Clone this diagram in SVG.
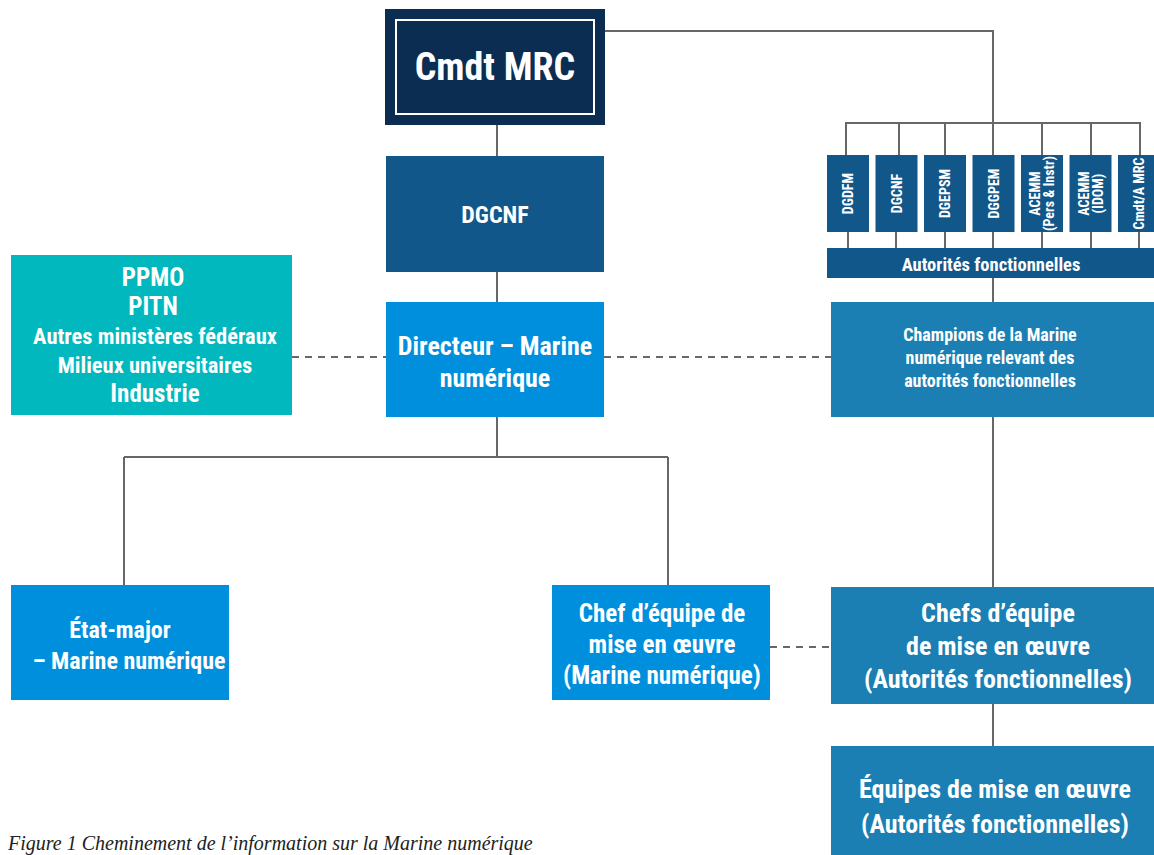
<svg xmlns="http://www.w3.org/2000/svg" width="1154" height="855" viewBox="0 0 1154 855">
<style>
.t{font-family:"Liberation Sans Narrow","Roboto Condensed","Roboto","Liberation Sans",sans-serif;font-weight:bold;fill:#fff;text-anchor:middle}
.ln{stroke:#676767;stroke-width:2;fill:none}
.ds{stroke:#676767;stroke-width:2;fill:none;stroke-dasharray:7 6}
.navy{fill:#0b2d52}
.dk{fill:#12578a}
.br{fill:#008fdd}
.md{fill:#1b7fb4}
.tl{fill:#00b8be}
.sm{font-size:14px}
</style>
<rect width="1154" height="855" fill="#fff"/>
<g id="connectors">
<path class="ln" d="M605 31H993V123M846 155V123H1140V155M899 123V155M945 123V155M1042 123V155M1091 123V155M993 123V155"/>
<path class="ln" d="M848 232V248M896 232V248M945 232V248M993 232V248M1042 232V248M1091 232V248M1139 232V248"/>
<path class="ln" d="M993 278V302M497 125V156M497 272V302M497 417V457M124 457H668M124 457V585M668 457V585M993 417V587M993 704V746"/>
<path class="ds" d="M292 357H386M604 357H831M770 647H831"/>
</g>
<g id="cmdt"><rect class="navy" x="385" y="9" width="220" height="116"/><rect x="396" y="20" width="198" height="94" fill="none" stroke="#fff" stroke-width="2"/><text class="t" x="495" y="80" font-size="38">Cmdt MRC</text></g>
<g id="dgcnf"><rect class="dk" x="386" y="156" width="218" height="116"/><text class="t" x="495" y="223" font-size="24">DGCNF</text></g>
<g id="directeur"><rect class="br" x="386" y="302" width="218" height="115"/><text class="t" x="495" y="355" font-size="26">Directeur – Marine</text><text class="t" x="495" y="387" font-size="26">numérique</text></g>
<g id="ppmo"><rect class="tl" x="11" y="255" width="281" height="160"/><text class="t" x="153" y="286" font-size="25">PPMO</text><text class="t" x="153" y="315" font-size="25">PITN</text><text class="t" x="155" y="344" font-size="22.5">Autres ministères fédéraux</text><text class="t" x="155" y="373" font-size="22.5">Milieux universitaires</text><text class="t" x="155" y="402" font-size="25">Industrie</text></g>
<g id="afboxes">
<rect class="dk" x="827" y="155" width="42" height="77"/><text class="t sm" transform="translate(853 193.5) rotate(-90)">DGDFM</text>
<rect class="dk" x="875.5" y="155" width="42" height="77"/><text class="t sm" transform="translate(901.5 193.5) rotate(-90)">DGCNF</text>
<rect class="dk" x="924" y="155" width="42" height="77"/><text class="t sm" transform="translate(950 193.5) rotate(-90)">DGEPSM</text>
<rect class="dk" x="972.5" y="155" width="42" height="77"/><text class="t sm" transform="translate(998.5 193.5) rotate(-90)">DGGPEM</text>
<rect class="dk" x="1021" y="155" width="42" height="77"/><text class="t sm" transform="translate(1040 193.5) rotate(-90)">ACEMM</text><text class="t sm" transform="translate(1054 193.5) rotate(-90)">(Pers &amp; Instr)</text>
<rect class="dk" x="1069.5" y="155" width="42" height="77"/><text class="t sm" transform="translate(1088.5 193.5) rotate(-90)">ACEMM</text><text class="t sm" transform="translate(1102.5 193.5) rotate(-90)">(IDOM)</text>
<rect class="dk" x="1118" y="155" width="42" height="77"/><text class="t sm" transform="translate(1143.5 193.5) rotate(-90)">Cmdt/A MRC</text>
</g>
<g id="autorites"><rect class="dk" x="827" y="248" width="327" height="30"/><text class="t" x="991" y="271" font-size="18.5">Autorités fonctionnelles</text></g>
<g id="champions"><rect class="md" x="831" y="302" width="323" height="115"/><text class="t" x="990" y="341" font-size="18">Champions de la Marine</text><text class="t" x="990" y="364" font-size="18">numérique relevant des</text><text class="t" x="990" y="387" font-size="18">autorités fonctionnelles</text></g>
<g id="etatmajor"><rect class="br" x="11" y="585" width="218" height="115"/><text class="t" x="120" y="638" font-size="24">État-major</text><text class="t" x="129" y="669" font-size="24">– Marine numérique</text></g>
<g id="chef"><rect class="br" x="552" y="585" width="218" height="115"/><text class="t" x="662" y="622" font-size="25">Chef d’équipe de</text><text class="t" x="662" y="653" font-size="25">mise en œuvre</text><text class="t" x="662" y="684" font-size="25">(Marine numérique)</text></g>
<g id="chefsaf"><rect class="md" x="831" y="587" width="323" height="117"/><text class="t" x="998" y="622" font-size="26">Chefs d’équipe</text><text class="t" x="998" y="655" font-size="26">de mise en œuvre</text><text class="t" x="998" y="688" font-size="26">(Autorités fonctionnelles)</text></g>
<g id="equipes"><rect class="md" x="831" y="746" width="323" height="109"/><text class="t" x="995" y="798" font-size="26">Équipes de mise en œuvre</text><text class="t" x="995" y="833" font-size="26">(Autorités fonctionnelles)</text></g>
<text x="8" y="850" font-family="Liberation Serif,serif" font-style="italic" font-size="20" fill="#222">Figure 1 Cheminement de l’information sur la Marine numérique</text>
</svg>
